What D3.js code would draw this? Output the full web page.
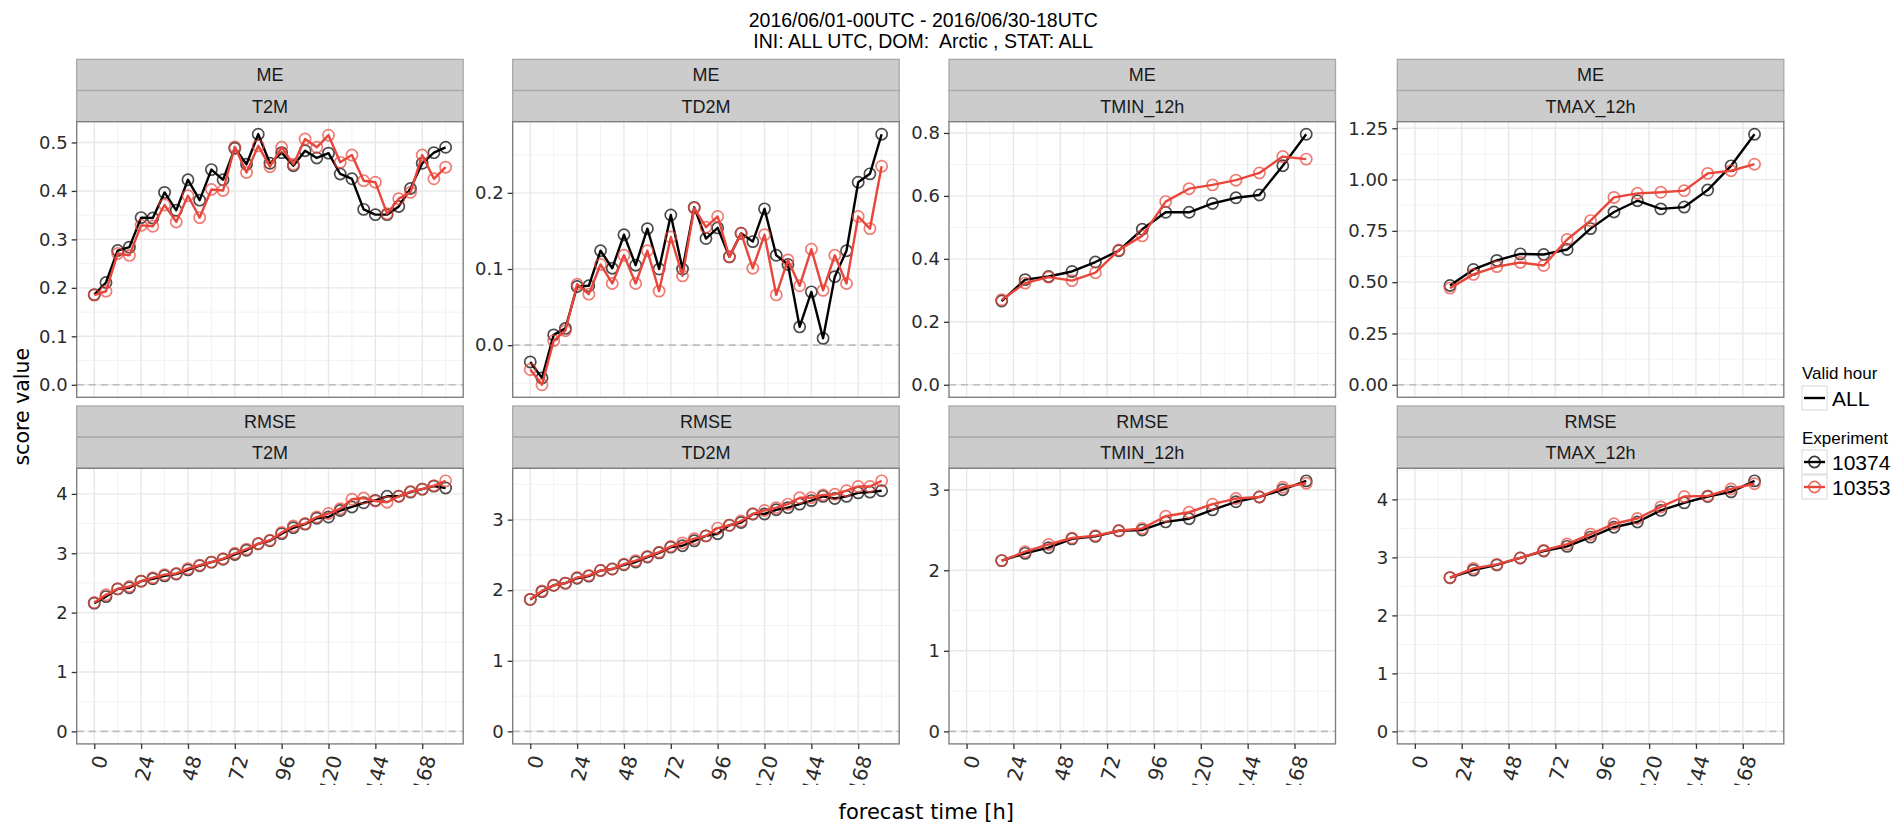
<!DOCTYPE html>
<html>
<head>
<meta charset="utf-8">
<script src="https://cdn.jsdelivr.net/npm/d3@7"></script>
<style>
  html, body { margin: 0; padding: 0; background: #ffffff; }
  svg { display: block; }
</style>
</head>
<body>
<svg id="chart" width="1895" height="825"></svg>
<script>
// ---- forecast lead times (hours) ----
const hoursSixHourly = [0, 6, 12, 18, 24, 30, 36, 42, 48, 54, 60, 66, 72, 78, 84, 90, 96, 102, 108, 114, 120, 126, 132, 138, 144, 150, 156, 162, 168, 174, 180];
const hoursTwelveHourly = [18, 30, 42, 54, 66, 78, 90, 102, 114, 126, 138, 150, 162, 174];

// ---- axis ticks ----
const xTicks = [0, 24, 48, 72, 96, 120, 144, 168];
const yTicksMeT2M = [0.0, 0.1, 0.2, 0.3, 0.4, 0.5];
const yTicksMeTD2M = [0.0, 0.1, 0.2];
const yTicksMeTmin = [0.0, 0.2, 0.4, 0.6, 0.8];
const yTicksMeTmax = [0.00, 0.25, 0.50, 0.75, 1.00, 1.25];
const yTicksRmseT2M = [0, 1, 2, 3, 4];
const yTicksRmseTD2M = [0, 1, 2, 3];
const yTicksRmseTmin = [0, 1, 2, 3];
const yTicksRmseTmax = [0, 1, 2, 3, 4];

// ---- experiments ----
const experiments = ["10374", "10353"];
const experimentColours = ["#000000", "#e8463b"];
const validHours = ["ALL"];

// ---- ME scores ----
const meT2M_10374 = [0.186, 0.211, 0.277, 0.284, 0.345, 0.344, 0.397, 0.360, 0.423, 0.381, 0.444, 0.423, 0.488, 0.455, 0.517, 0.457, 0.479, 0.452, 0.483, 0.468, 0.478, 0.435, 0.425, 0.362, 0.351, 0.351, 0.368, 0.405, 0.457, 0.479, 0.490];
const meT2M_10353 = [0.185, 0.193, 0.271, 0.267, 0.329, 0.327, 0.371, 0.336, 0.390, 0.345, 0.403, 0.401, 0.491, 0.438, 0.493, 0.450, 0.490, 0.455, 0.507, 0.490, 0.515, 0.459, 0.474, 0.421, 0.418, 0.353, 0.384, 0.397, 0.474, 0.425, 0.449];

const meTD2M_10374 = [-0.022, -0.043, 0.0135, 0.022, 0.077, 0.078, 0.124, 0.101, 0.145, 0.105, 0.153, 0.100, 0.171, 0.100, 0.181, 0.140, 0.154, 0.116, 0.147, 0.136, 0.179, 0.118, 0.106, 0.024, 0.070, 0.009, 0.090, 0.124, 0.214, 0.225, 0.277];
const meTD2M_10353 = [-0.032, -0.052, 0.006, 0.019, 0.080, 0.067, 0.106, 0.081, 0.118, 0.081, 0.124, 0.071, 0.142, 0.091, 0.180, 0.155, 0.169, 0.116, 0.147, 0.101, 0.145, 0.066, 0.112, 0.078, 0.126, 0.072, 0.118, 0.081, 0.169, 0.153, 0.235];

const meTmin_10374 = [0.266, 0.334, 0.344, 0.360, 0.390, 0.426, 0.494, 0.548, 0.548, 0.576, 0.594, 0.603, 0.696, 0.796];
const meTmin_10353 = [0.270, 0.323, 0.342, 0.331, 0.356, 0.428, 0.473, 0.582, 0.623, 0.635, 0.650, 0.673, 0.725, 0.717];

const meTmax_10374 = [0.484, 0.562, 0.606, 0.638, 0.635, 0.659, 0.761, 0.842, 0.897, 0.857, 0.866, 0.949, 1.067, 1.221];
const meTmax_10353 = [0.471, 0.538, 0.576, 0.596, 0.581, 0.708, 0.800, 0.913, 0.933, 0.938, 0.946, 1.030, 1.043, 1.075];

// ---- RMSE scores ----
const rmseT2M_10374 = [2.16, 2.27, 2.40, 2.42, 2.53, 2.57, 2.62, 2.65, 2.72, 2.79, 2.85, 2.90, 2.98, 3.05, 3.16, 3.21, 3.33, 3.43, 3.49, 3.59, 3.61, 3.72, 3.78, 3.85, 3.89, 3.96, 3.96, 4.03, 4.08, 4.13, 4.10];
const rmseT2M_10353 = [2.17, 2.30, 2.40, 2.44, 2.53, 2.59, 2.64, 2.66, 2.74, 2.80, 2.85, 2.91, 3.00, 3.07, 3.16, 3.22, 3.35, 3.46, 3.50, 3.61, 3.67, 3.75, 3.91, 3.93, 3.88, 3.86, 3.96, 4.04, 4.08, 4.14, 4.22];

const rmseTD2M_10374 = [1.87, 1.98, 2.07, 2.10, 2.17, 2.20, 2.28, 2.30, 2.36, 2.40, 2.47, 2.53, 2.61, 2.63, 2.70, 2.77, 2.80, 2.92, 2.96, 3.08, 3.08, 3.14, 3.17, 3.22, 3.27, 3.33, 3.30, 3.33, 3.38, 3.39, 3.41];
const rmseTD2M_10353 = [1.87, 1.99, 2.07, 2.10, 2.18, 2.21, 2.28, 2.30, 2.37, 2.42, 2.48, 2.54, 2.62, 2.67, 2.73, 2.77, 2.88, 2.92, 2.98, 3.08, 3.13, 3.17, 3.22, 3.31, 3.31, 3.35, 3.36, 3.41, 3.47, 3.47, 3.55];

const rmseTmin_10374 = [2.12, 2.21, 2.28, 2.39, 2.42, 2.49, 2.50, 2.60, 2.64, 2.75, 2.85, 2.91, 3.00, 3.11];
const rmseTmin_10353 = [2.12, 2.23, 2.32, 2.40, 2.43, 2.49, 2.52, 2.67, 2.72, 2.82, 2.89, 2.91, 3.03, 3.08];

const rmseTmax_10374 = [2.65, 2.78, 2.87, 2.99, 3.11, 3.19, 3.35, 3.52, 3.61, 3.81, 3.94, 4.05, 4.13, 4.32];
const rmseTmax_10353 = [2.65, 2.81, 2.88, 2.99, 3.12, 3.23, 3.40, 3.58, 3.67, 3.87, 4.05, 4.06, 4.18, 4.27];

// ---- facet table built from the arrays above ----
const panels = [
  { score: "ME",   param: "T2M",      row: 0, col: 0, hours: hoursSixHourly,    series: [meT2M_10374, meT2M_10353],       yTicks: yTicksMeT2M,    fmt: ".1f" },
  { score: "ME",   param: "TD2M",     row: 0, col: 1, hours: hoursSixHourly,    series: [meTD2M_10374, meTD2M_10353],     yTicks: yTicksMeTD2M,   fmt: ".1f" },
  { score: "ME",   param: "TMIN_12h", row: 0, col: 2, hours: hoursTwelveHourly, series: [meTmin_10374, meTmin_10353],     yTicks: yTicksMeTmin,   fmt: ".1f" },
  { score: "ME",   param: "TMAX_12h", row: 0, col: 3, hours: hoursTwelveHourly, series: [meTmax_10374, meTmax_10353],     yTicks: yTicksMeTmax,   fmt: ".2f" },
  { score: "RMSE", param: "T2M",      row: 1, col: 0, hours: hoursSixHourly,    series: [rmseT2M_10374, rmseT2M_10353],   yTicks: yTicksRmseT2M,  fmt: "d" },
  { score: "RMSE", param: "TD2M",     row: 1, col: 1, hours: hoursSixHourly,    series: [rmseTD2M_10374, rmseTD2M_10353], yTicks: yTicksRmseTD2M, fmt: "d" },
  { score: "RMSE", param: "TMIN_12h", row: 1, col: 2, hours: hoursTwelveHourly, series: [rmseTmin_10374, rmseTmin_10353], yTicks: yTicksRmseTmin, fmt: "d" },
  { score: "RMSE", param: "TMAX_12h", row: 1, col: 3, hours: hoursTwelveHourly, series: [rmseTmax_10374, rmseTmax_10353], yTicks: yTicksRmseTmax, fmt: "d" }
];

// ---- layout ----
const colLeft = [76.7, 512.7, 949.0, 1397.3];
const panelW = 386.5;
const stripTop = [59.4, 406.0];
const stripH = 31.15;
const panelH = 275.6;

const fontSans = "'Liberation Sans', Arial, Helvetica, sans-serif";
const fontTicks = "'DejaVu Sans', 'Liberation Sans', sans-serif";

const svg = d3.select("#chart");

// expand a numeric range by 5% on each side (ggplot-style continuous expansion)
function expand(lo, hi, mult = 0.05) {
  const d = (hi - lo) * mult;
  return [lo - d, hi + d];
}

// shared x scale domain from all lead times
const allHours = hoursSixHourly.concat(hoursTwelveHourly);
const xDomain = expand(d3.min(allHours), d3.max(allHours));

// minor breaks halfway between majors, extended one step at each end
function minorBreaks(major, domain) {
  const step = major[1] - major[0];
  const out = [];
  for (let i = -1; i < major.length; i++) {
    const m = (i < 0 ? major[0] - step : major[i]) + step / 2;
    if (m > domain[0] && m < domain[1]) out.push(m);
  }
  return out;
}

// clip for rotated x tick labels (the label band is cut at its lower edge)
const defs = svg.append("defs");
defs.append("clipPath").attr("id", "xlabClip")
  .append("rect").attr("x", 0).attr("y", 0).attr("width", 1895).attr("height", 785);

panels.forEach(p => {
  const left = colLeft[p.col];
  const sTop = stripTop[p.row];
  const top = sTop + 2 * stripH;
  const bottom = top + panelH;

  const x = d3.scaleLinear().domain(xDomain).range([left, left + panelW]);
  const allVals = p.series[0].concat(p.series[1]).concat([0]);
  const yDomain = expand(d3.min(allVals), d3.max(allVals));
  const y = d3.scaleLinear().domain(yDomain).range([bottom, top]);

  const g = svg.append("g");

  // strips
  [p.score, p.param].forEach((lab, i) => {
    const sy = sTop + i * stripH;
    g.append("rect")
      .attr("x", left).attr("y", sy).attr("width", panelW).attr("height", stripH)
      .attr("fill", "#cccccc").attr("stroke", "#a8a8a8").attr("stroke-width", 1.3);
    g.append("text")
      .attr("x", left + panelW / 2).attr("y", sy + stripH / 2)
      .attr("dy", "0.36em").attr("text-anchor", "middle")
      .attr("font-family", fontSans).attr("font-size", 18).attr("fill", "#1a1a1a")
      .text(lab);
  });

  // panel background
  g.append("rect").attr("x", left).attr("y", top).attr("width", panelW).attr("height", panelH)
    .attr("fill", "#ffffff");

  // grid lines
  const xMinor = minorBreaks(xTicks, xDomain);
  const yMinor = minorBreaks(p.yTicks, yDomain);
  g.selectAll(null).data(xMinor).enter().append("line")
    .attr("x1", d => x(d)).attr("x2", d => x(d)).attr("y1", top).attr("y2", bottom)
    .attr("stroke", "#f2f2f2").attr("stroke-width", 1);
  g.selectAll(null).data(yMinor).enter().append("line")
    .attr("x1", left).attr("x2", left + panelW).attr("y1", d => y(d)).attr("y2", d => y(d))
    .attr("stroke", "#f2f2f2").attr("stroke-width", 1);
  g.selectAll(null).data(xTicks).enter().append("line")
    .attr("x1", d => x(d)).attr("x2", d => x(d)).attr("y1", top).attr("y2", bottom)
    .attr("stroke", "#e8e8e8").attr("stroke-width", 1.4);
  g.selectAll(null).data(p.yTicks).enter().append("line")
    .attr("x1", left).attr("x2", left + panelW).attr("y1", d => y(d)).attr("y2", d => y(d))
    .attr("stroke", "#e8e8e8").attr("stroke-width", 1.4);

  // zero reference
  g.append("line")
    .attr("x1", left).attr("x2", left + panelW).attr("y1", y(0)).attr("y2", y(0))
    .attr("stroke", "#bdbdbd").attr("stroke-width", 1.6).attr("stroke-dasharray", "7,5");

  // series: lines then open circles
  const line = d3.line().x(d => x(d[0])).y(d => y(d[1]));
  p.series.forEach((vals, si) => {
    const pts = p.hours.map((h, i) => [h, vals[i]]);
    g.append("path").datum(pts).attr("d", line)
      .attr("fill", "none").attr("stroke", experimentColours[si])
      .attr("stroke-width", 2.4).attr("stroke-linejoin", "round");
    g.selectAll(null).data(pts).enter().append("circle")
      .attr("cx", d => x(d[0])).attr("cy", d => y(d[1])).attr("r", 5.6)
      .attr("fill", "none").attr("stroke", experimentColours[si])
      .attr("stroke-width", 1.7).attr("stroke-opacity", 0.7);
  });

  // panel border
  g.append("rect").attr("x", left).attr("y", top).attr("width", panelW).attr("height", panelH)
    .attr("fill", "none").attr("stroke", "#808080").attr("stroke-width", 1.4);

  // y axis
  const fmt = d3.format(p.fmt);
  const yAxis = g.append("g").attr("transform", `translate(${left},0)`)
    .call(d3.axisLeft(y).tickValues(p.yTicks).tickFormat(fmt).tickSize(5).tickPadding(4));
  yAxis.select(".domain").remove();
  yAxis.selectAll(".tick line").attr("stroke", "#333333").attr("stroke-width", 1.3);
  yAxis.selectAll(".tick text").attr("font-family", fontTicks).attr("font-size", 18).attr("fill", "#2b2b2b");

  // x axis on the bottom row only
  if (p.row === 1) {
    const xAxis = g.append("g").attr("transform", `translate(0,${bottom})`)
      .call(d3.axisBottom(x).tickValues(xTicks).tickFormat(d3.format("d")).tickSize(5).tickPadding(4));
    xAxis.select(".domain").remove();
    xAxis.selectAll(".tick line").attr("stroke", "#333333").attr("stroke-width", 1.3);
    xAxis.selectAll(".tick text").remove();
    const labs = g.append("g").attr("clip-path", "url(#xlabClip)");
    labs.selectAll(null).data(xTicks).enter().append("text")
      .attr("transform", d => `translate(${x(d) + 7},${bottom + 12}) rotate(-75)`)
      .attr("text-anchor", "end").attr("dy", "0.35em")
      .attr("font-family", fontTicks).attr("font-size", 20).attr("fill", "#2b2b2b")
      .text(d => d);
  }
});

// ---- titles ----
const titleX = (colLeft[0] + colLeft[3] + panelW) / 2 - 7;
svg.append("text").attr("x", titleX).attr("y", 27).attr("text-anchor", "middle")
  .attr("font-family", fontSans).attr("font-size", 19.5).attr("fill", "#000")
  .text("2016/06/01-00UTC - 2016/06/30-18UTC");
svg.append("text").attr("x", titleX).attr("y", 48).attr("text-anchor", "middle")
  .attr("font-family", fontSans).attr("font-size", 19.5).attr("fill", "#000")
  .attr("xml:space", "preserve").style("white-space", "pre")
  .text("INI: ALL UTC, DOM:  Arctic , STAT: ALL");

svg.append("text")
  .attr("transform", `translate(22,${(stripTop[0] + stripTop[1] + 2 * stripH + panelH) / 2 + 5}) rotate(-90)`)
  .attr("text-anchor", "middle").attr("dy", "0.35em")
  .attr("font-family", fontTicks).attr("font-size", 20.5).attr("fill", "#000")
  .text("score value");

svg.append("text").attr("x", titleX + 3).attr("y", 819).attr("text-anchor", "middle")
  .attr("font-family", fontTicks).attr("font-size", 21).attr("fill", "#000")
  .text("forecast time [h]");

// ---- legends ----
const legX = 1802, keyW = 25, keyH = 24;
const leg = svg.append("g");
leg.append("text").attr("x", legX).attr("y", 373).attr("dy", "0.35em")
  .attr("font-family", fontSans).attr("font-size", 17).text("Valid hour");
validHours.forEach((v, i) => {
  const ky = 386 + i * keyH;
  leg.append("rect").attr("x", legX).attr("y", ky).attr("width", keyW).attr("height", keyH)
    .attr("fill", "#ffffff").attr("stroke", "#dedede").attr("stroke-width", 1.2);
  leg.append("line").attr("x1", legX + 2).attr("x2", legX + keyW - 2)
    .attr("y1", ky + keyH / 2).attr("y2", ky + keyH / 2)
    .attr("stroke", "#000").attr("stroke-width", 2.4);
  leg.append("text").attr("x", legX + keyW + 5).attr("y", ky + keyH / 2).attr("dy", "0.36em")
    .attr("font-family", fontSans).attr("font-size", 21).text(v);
});
leg.append("text").attr("x", legX).attr("y", 438).attr("dy", "0.35em")
  .attr("font-family", fontSans).attr("font-size", 17).text("Experiment");
experiments.forEach((e, i) => {
  const ky = 450 + i * (keyH + 1);
  leg.append("rect").attr("x", legX).attr("y", ky).attr("width", keyW).attr("height", keyH)
    .attr("fill", "#ffffff").attr("stroke", "#dedede").attr("stroke-width", 1.2);
  leg.append("line").attr("x1", legX + 2).attr("x2", legX + keyW - 2)
    .attr("y1", ky + keyH / 2).attr("y2", ky + keyH / 2)
    .attr("stroke", experimentColours[i]).attr("stroke-width", 2.4);
  leg.append("circle").attr("cx", legX + keyW / 2).attr("cy", ky + keyH / 2).attr("r", 5.6)
    .attr("fill", "none").attr("stroke", experimentColours[i]).attr("stroke-width", 1.7)
    .attr("stroke-opacity", 0.8);
  leg.append("text").attr("x", legX + keyW + 5).attr("y", ky + keyH / 2).attr("dy", "0.36em")
    .attr("font-family", fontSans).attr("font-size", 21).text(e);
});
</script>
</body>
</html>
